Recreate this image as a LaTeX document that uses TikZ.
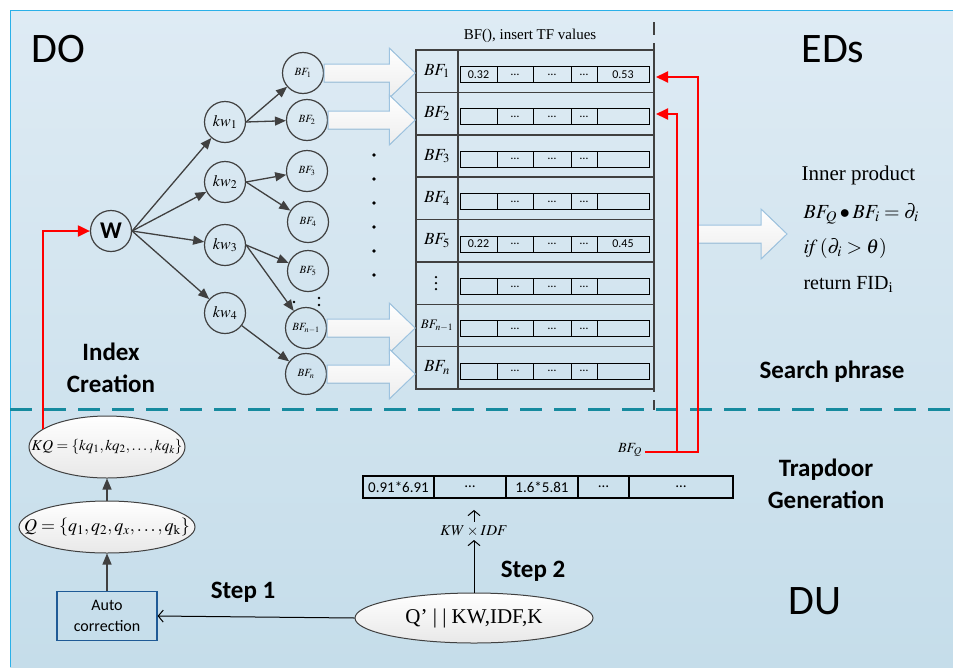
\documentclass[tikz,border=0pt]{standalone}
\usepackage{mathptmx}
\usepackage[no-math]{fontspec}
\setmainfont{Liberation Serif}
\setsansfont{Carlito}
\usetikzlibrary{arrows.meta,calc,shapes.geometric}

\definecolor{bgtop}{HTML}{DEEBF4}
\definecolor{bgbot}{HTML}{C5DDEA}
\definecolor{framecol}{HTML}{2AB0E8}
\definecolor{sepcol}{HTML}{168A9E}
\definecolor{darkline}{HTML}{404040}
\definecolor{fatedge}{HTML}{9DC3E0}
\definecolor{boxblue}{HTML}{1F5A96}

\newcommand\fsz[1]{\fontsize{#1}{#1}\selectfont}
% block arrow from #1 (start, gives the height) to #2 (tip)
\newcommand\fatarrow[2]{%
  \filldraw[fatarr] let \p1=(#1), \p2=(#2) in
    (\x1,\y1+9pt) -- (\x2-26pt,\y1+9pt) -- (\x2-26pt,\y1+25pt) -- (\x2,\y1)
    -- (\x2-26pt,\y1-25pt) -- (\x2-26pt,\y1-9pt) -- (\x1,\y1-9pt) -- cycle;}

\tikzset{
  circ/.style={circle,draw=darkline,line width=1.2pt,minimum size=41pt,inner sep=0pt},
  tree/.style={draw=darkline,line width=1.3pt,-{Triangle[length=11pt,width=9pt]}},
  fatarr/.style={draw=fatedge,line width=1pt,top color=white,bottom color=gray!14},
  lab/.style={draw=darkline,line width=1.5pt,minimum width=42pt,minimum height=42.375pt,inner sep=0pt},
  cell/.style={draw=black,line width=1pt,minimum height=16pt,inner sep=0pt,font=\sffamily\fsz{12}},
  tcell/.style={draw=black,line width=1.5pt,minimum height=22pt,inner sep=0pt,font=\sffamily\fsz{15}},
  ovl/.style={ellipse,draw=darkline,line width=1pt,top color=white,bottom color=gray!18,inner sep=0pt},
  redarr/.style={red,line width=2pt,-{Triangle[length=12pt,width=11pt]}},
  thinarr/.style={black,line width=1pt,-{Straight Barb[length=5pt,width=12pt]}},
  big/.style={font=\sffamily\fsz{42}},
  head/.style={font=\sffamily\bfseries\fontsize{25}{32}\selectfont,align=center},
}

\begin{document}
\begin{tikzpicture}[x=1pt,y=-1pt]
\useasboundingbox (0,0) rectangle (953,667);
% background and frame
\shade[top color=bgtop,bottom color=bgbot] (10,10) rectangle (953,667);
\draw[framecol,line width=1pt] (953,10.5) -- (10.5,10.5) -- (10.5,667);
\draw[sepcol,line width=3pt,dash pattern=on 22pt off 12pt] (10,409) -- (953,409);
\draw[darkline,line width=1.5pt,dash pattern=on 13pt off 8pt] (654,22) -- (654,410);

% titles
\node[big] (do) at (58,49) {DO};
\node[big] (eds) at (833,49) {EDs};
\node[big] (du) at (815,601) {DU};
\node[head] (ic) at (111,368) {Index\\Creation};
\node[head] (sp) at (832,372) {Search phrase};
\node[head] (tg) at (826,484) {Trapdoor\\Generation};
\node[head] (s1) at (243,592) {Step 1};
\node[head] (s2) at (533,571) {Step 2};

% keyword tree
\node[circ,font=\sffamily\bfseries\fsz{24}] (w) at (111,231) {W};
\foreach \k/\y in {1/122,2/182,3/245,4/313}
  \node[circ,font=\fsz{16}] (kw\k) at (225,\y) {$kw_{\k}$};
\foreach \n/\x/\y/\t in {bf1/303/73/1,bf2/307/120/2,bf3/307/171/3,bf4/308/222/4,bf5/308/271/5,bfm/306/328/{n-1},bfn/306/374/n}
  \node[circ,font=\fsz{11}] (\n) at (\x,\y) {$BF_{\t}$};

\foreach \k in {1,...,4}
  \draw[tree] (w.east) -- (kw\k);
\draw[tree] (kw1.east) -- (bf1);
\draw[tree] (kw1.east) -- (bf2);
\draw[tree] (kw2.east) -- (bf3);
\draw[tree] (kw2.east) -- (bf4);
\draw[tree] (kw3.east) -- (bf5);
\draw[tree] (kw3.east) -- (bfm);
\draw[tree] (kw4) -- (bfn);

\foreach \i in {0,...,5}
  \fill (374,{155+24*\i}) circle (1.8);
\fill (294,302) circle (1.3);
\fill (319,298) circle (1.3);
\fill (319,305) circle (1.3);

% BF table
\node[font=\fsz{15}] (bftitle) at (530,36) {BF(), insert TF values};
\foreach \i/\t in {1/{$BF_1$},2/{$BF_2$},3/{$BF_3$},4/{$BF_4$},5/{$BF_5$},6/{},7/{\fsz{13}$BF_{n-1}$},8/{$BF_n$}}{
  \node[lab,font=\fsz{17}] (lab\i) at (437,{50+42.375*(\i-0.5)}) {\t};
  \node[lab,minimum width=196pt] (row\i) at (556,{50+42.375*(\i-0.5)}) {};
}
\foreach \d in {-6,0,6}
  \fill ($(lab6.center)+(-1,\d)$) circle (1.3);
\foreach \i/\a/\b in {1/0.32/0.53,2//,3//,4//,5/0.22/0.45,6//,7//,8//}
  \foreach \c/\cx/\cw/\t in {1/478.5/37/\a,2/515/36/\dots,3/552/38/\dots,4/584/26/\dots,5/623/52/\b}
    \node[cell,minimum width=\cw pt] (c\i-\c) at (\cx,{74.5+42.375*(\i-1)}) {\t};

\fatarrow{bf1.east}{lab1.west}
\fatarrow{bf2.east}{lab2.west}
\fatarrow{bfm.east}{lab7.west}
\fatarrow{bfn.east}{lab8.west}

% search
\coordinate (sr) at (698,234);
\coordinate (st) at (787,234);
\fatarrow{sr}{st}
\node[anchor=west,font=\fsz{21}] (ip) at (798,175) {Inner product};
\node[anchor=west,font=\fsz{20}] (f1) at (800,214) {$BF_Q\bullet BF_i=\partial_i$};
\node[anchor=west,font=\fsz{20}] (f2) at (800,248) {$\mathit{if}\,(\partial_i>\theta)$};
\node[anchor=west,font=\fsz{20}] (f3) at (800,284) {return FID\textsubscript{i}};

% trapdoor
\node[font=\fsz{14}] (bfq) at (630,450) {$BF_Q$};
\coordinate (q1) at (698,452);
\coordinate (q2) at (677,452);
\coordinate (in1) at (656,77);
\coordinate (in2) at (656,114);
\draw[redarr] (bfq.east |- q1) -- (q1) |- (in1);
\draw[redarr] (q2) |- (in2);

\foreach \c/\cx/\cw/\t in {1/398.5/71/0.91*6.91,2/470/72/\dots,3/542/72/1.6*5.81,4/603.5/51/\dots,5/681/104/\dots}
  \node[tcell,minimum width=\cw pt] (t\c) at (\cx,487) {\t};

% data user side
\node[ovl,minimum width=156pt,minimum height=62pt,
  label={[font=\fsz{15}]center:{$KQ=\{kq_1,kq_2,\dots,kq_k\}$}}] (kq) at (107,447) {};
\node[ovl,minimum width=176pt,minimum height=52pt,
  label={[font=\fsz{18}]center:{$Q=\{q_1,q_2,q_x,\dots,q_{\mathrm{k}}\}$}}] (q) at (107,527) {};
\node[draw=boxblue,line width=1.2pt,minimum width=100pt,minimum height=49pt,align=center,
  font=\sffamily\fontsize{16}{21}\selectfont] (auto) at (107,616) {Auto\\correction};
\node[ovl,minimum width=238pt,minimum height=50pt,
  label={[font=\fsz{21}]center:{Q’ | | KW,IDF,K}}] (qp) at (474,618) {};
\node[font=\fsz{15}] (kwidf) at (474,531) {$KW\times IDF$};

\draw[tree] (auto) -- (q);
\draw[tree] (q) -- (kq);
\draw[redarr] (kq.164) |- (w.west);
\draw[thinarr] (qp.west) -- (auto.east);
\draw[thinarr] (qp.north) -- (kwidf.south);
\draw[thinarr] (kwidf.north) -- ++(0,-12);
\end{tikzpicture}
\end{document}
